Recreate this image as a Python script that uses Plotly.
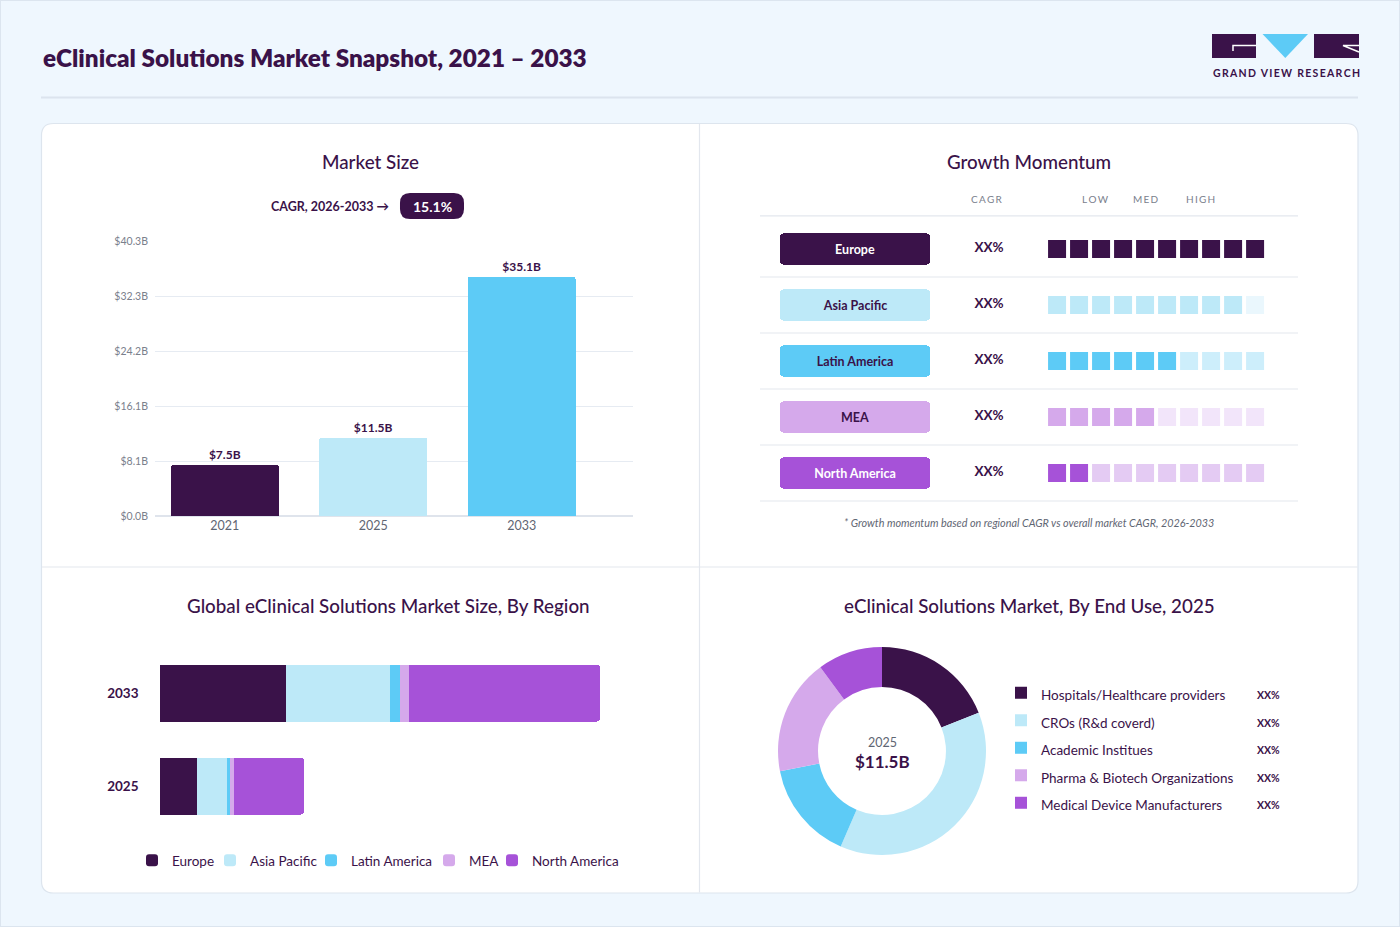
import plotly.graph_objects as go

# ---------------- data ----------------
years = ["2021", "2025", "2033"]
market_size = [7.5, 11.5, 35.1]
market_labels = ["$7.5B", "$11.5B", "$35.1B"]
y_max = 40.33
y_tickvals = [0, 8.066, 16.132, 24.198, 32.264, 40.33]
y_ticktext = ["$0.0B", "$8.1B", "$16.1B", "$24.2B", "$32.3B", "$40.3B"]
cagr_label = "CAGR, 2026-2033 \u2192"
cagr_value = "15.1%"

regions = ["Europe", "Asia Pacific", "Latin America", "MEA", "North America"]
momentum_filled = [10, 9, 6, 5, 2]
momentum_slots = 10
momentum_cagr = ["XX%", "XX%", "XX%", "XX%", "XX%"]
momentum_header = ["CAGR", "LOW", "MED", "HIGH"]
momentum_note = "* Growth momentum based on regional CAGR vs overall market CAGR, 2026-2033"

region_years = ["2025", "2033"]
europe_vals = [2.95, 10.09]
asia_pacific_vals = [2.45, 8.24]
latin_america_vals = [0.20, 0.80]
mea_vals = [0.30, 0.74]
north_america_vals = [5.60, 15.22]
region_total_labels = ["$11.5B", "$35.1B"]

end_use = ["Hospitals/Healthcare providers", "CROs (R&d coverd)", "Academic Institues",
           "Pharma & Biotech Organizations", "Medical Device Manufacturers"]
end_use_share = [19.0, 37.5, 15.4, 18.0, 10.1]
end_use_pct = ["XX%", "XX%", "XX%", "XX%", "XX%"]
donut_year = "2025"
donut_total = "$11.5B"

# ---------------- styles ----------------
W, H = 1400, 927
FONT = "Lato"
DARK = "#3A1249"
GRAY = "#5F6673"
LIGHTGRAY = "#7A808C"
C_DARK = "#3A1249"
C_LBLUE = "#BDE9F8"
C_SKY = "#5DCBF6"
C_LAV = "#D5A9EB"
C_PURP = "#A652D8"
region_colors = [C_DARK, C_LBLUE, C_SKY, C_LAV, C_PURP]
region_empty = [C_DARK, "#EAF7FD", "#CDEEFB", "#F2E5FA", "#E4CBF3"]
region_text = ["white", DARK, DARK, DARK, "white"]
region_legend_width = [33, 56, 73, 18, 92]
market_colors = [C_DARK, C_LBLUE, C_SKY]
end_use_colors = [C_DARK, C_LBLUE, C_SKY, C_LAV, C_PURP]


def fx(p):
    return p / W


def fy(p):
    return 1 - p / H


def rrect(x0, y0, x1, y1, r):
    def P(x, y):
        return f"{fx(x):.5f},{fy(y):.5f}"
    return (f"M{P(x0 + r, y0)} L{P(x1 - r, y0)} Q{P(x1, y0)} {P(x1, y0 + r)} "
            f"L{P(x1, y1 - r)} Q{P(x1, y1)} {P(x1 - r, y1)} L{P(x0 + r, y1)} "
            f"Q{P(x0, y1)} {P(x0, y1 - r)} L{P(x0, y0 + r)} Q{P(x0, y0)} {P(x0 + r, y0)} Z")


fig = go.Figure()

# ---------------- Market size bars ----------------
fig.add_trace(go.Bar(
    x=years, y=market_size, marker=dict(color=market_colors, line=dict(width=0)),
    width=0.727, text=market_labels, textposition="outside", cliponaxis=False,
    textfont=dict(family=FONT, size=12, color=DARK, weight="bold"),
    xaxis="x", yaxis="y", showlegend=False, hoverinfo="skip"))

# ---------------- Growth momentum ----------------
rows = list(range(len(regions)))
BOX_X0 = 1 + (780 - 1057) / 22
BOX_LEN = 150 / 22
fig.add_trace(go.Bar(
    y=rows, x=[BOX_LEN] * len(rows), base=[BOX_X0] * len(rows), orientation="h",
    width=0.554, marker=dict(color=region_colors, line=dict(width=0)),
    text=regions, textposition="inside", insidetextanchor="middle",
    textfont=dict(family=FONT, size=12.5, color=region_text, weight="bold"),
    xaxis="x2", yaxis="y2", showlegend=False, hoverinfo="skip"))

sq_x, sq_y, sq_c = [], [], []
for r, n in enumerate(momentum_filled):
    for c in range(1, momentum_slots + 1):
        sq_x.append(c)
        sq_y.append(r)
        sq_c.append(region_colors[r] if c <= n else region_empty[r])
fig.add_trace(go.Scatter(
    x=sq_x, y=sq_y, mode="markers",
    marker=dict(symbol="square", size=18, color=sq_c, line=dict(width=0)),
    xaxis="x2", yaxis="y2", showlegend=False, hoverinfo="skip"))

fig.add_trace(go.Scatter(
    x=[1 + (989 - 1057) / 22] * len(rows), y=rows, mode="text", text=momentum_cagr,
    textfont=dict(family=FONT, size=13.5, color=DARK, weight="bold"),
    xaxis="x2", yaxis="y2", showlegend=False, hoverinfo="skip"))

# ---------------- Region stacked bars ----------------
region_series = [europe_vals, asia_pacific_vals, latin_america_vals, mea_vals, north_america_vals]
for name, vals, col, lw in zip(regions, region_series, region_colors, region_legend_width):
    fig.add_trace(go.Bar(
        y=region_years, x=vals, name=name, orientation="h",
        marker=dict(color=col, line=dict(width=0)), legendwidth=lw,
        xaxis="x3", yaxis="y3", legend="legend", hoverinfo="skip"))
region_totals = [sum(v[i] for v in region_series) for i in range(len(region_years))]

# ---------------- Donut ----------------
fig.add_trace(go.Pie(
    labels=[f'<span style="font-size:13.5px">{t}</span>' for t in end_use],
    values=end_use_share, hole=0.615, sort=False, direction="clockwise",
    rotation=0, marker=dict(colors=end_use_colors, line=dict(width=0)),
    textinfo="none", hoverinfo="skip",
    domain=dict(x=[fx(778), fx(986)], y=[fy(855), fy(647)]),
    legend="legend2", showlegend=True))

# ---------------- shapes ----------------
shapes = []
shapes.append(dict(type="rect", xref="paper", yref="paper", x0=0, x1=1, y0=0, y1=1,
                   line=dict(color="#DCE5EF", width=2), fillcolor="rgba(0,0,0,0)", layer="below"))
shapes.append(dict(type="line", xref="paper", yref="paper", x0=fx(41), x1=fx(1358),
                   y0=fy(97.5), y1=fy(97.5), line=dict(color="#DCE4EE", width=2), layer="below"))
shapes.append(dict(type="path", xref="paper", yref="paper", path=rrect(41.5, 123.5, 1358, 893, 12),
                   fillcolor="white", line=dict(color="#DDE5EE", width=1.2), layer="below"))
shapes.append(dict(type="line", xref="paper", yref="paper", x0=fx(699.5), x1=fx(699.5),
                   y0=fy(124), y1=fy(892.5), line=dict(color="#E3E7EE", width=1.2), layer="below"))
shapes.append(dict(type="line", xref="paper", yref="paper", x0=fx(42), x1=fx(1357.5),
                   y0=fy(567), y1=fy(567), line=dict(color="#E3E7EE", width=1.2), layer="below"))
shapes.append(dict(type="path", xref="paper", yref="paper", path=rrect(400, 193, 464, 219, 10),
                   fillcolor=C_DARK, line=dict(width=0), layer="above"))
for yv in [-0.59] + [r + 0.5 for r in rows]:
    shapes.append(dict(type="line", xref="paper", yref="y2", x0=fx(760), x1=fx(1298),
                       y0=yv, y1=yv, line=dict(color="#E3E7EE", width=1.2), layer="below"))
# logo
shapes.append(dict(type="rect", xref="paper", yref="paper", x0=fx(1212), x1=fx(1256),
                   y0=fy(58), y1=fy(34), fillcolor=C_DARK, line=dict(width=0)))
shapes.append(dict(type="path", xref="paper", yref="paper",
                   path=f"M{fx(1256):.5f},{fy(45.5):.5f} L{fx(1233):.5f},{fy(45.5):.5f} L{fx(1233):.5f},{fy(51):.5f}",
                   line=dict(color="white", width=1.5)))
shapes.append(dict(type="path", xref="paper", yref="paper",
                   path=f"M{fx(1262.5):.5f},{fy(34):.5f} L{fx(1308):.5f},{fy(34):.5f} L{fx(1285.3):.5f},{fy(58):.5f} Z",
                   fillcolor=C_SKY, line=dict(width=0)))
shapes.append(dict(type="rect", xref="paper", yref="paper", x0=fx(1314), x1=fx(1359),
                   y0=fy(58), y1=fy(34), fillcolor=C_DARK, line=dict(width=0)))
shapes.append(dict(type="path", xref="paper", yref="paper",
                   path=f"M{fx(1359):.5f},{fy(45.5):.5f} L{fx(1343):.5f},{fy(45.5):.5f} L{fx(1359):.5f},{fy(52):.5f}",
                   line=dict(color="white", width=1.5)))

# ---------------- annotations ----------------
ann = []


def A(text, x, y, size, color=DARK, weight="normal", xanchor="center", style="normal", **kw):
    d = dict(text=text, x=x, y=y, xref=kw.pop("xref", "paper"), yref=kw.pop("yref", "paper"),
             xanchor=xanchor, yanchor="middle", showarrow=False,
             font=dict(family=FONT, size=size, color=color, weight=weight, style=style))
    d.update(kw)
    ann.append(d)


A("eClinical Solutions Market Snapshot, 2021 \u2013 2033", fx(41), fy(57), 24.3, weight=800, xanchor="left")
A("\u2009".join("GRAND") + "  " + "\u2009".join("VIEW") + "  " + "\u2009".join("RESEARCH"),
  fx(1286), fy(73), 10.5, weight="bold")

A("Market Size", fx(370), fy(161), 18.8, weight=500)
A("Growth Momentum", fx(1029), fy(161), 18.8, weight=500)
A("Global eClinical Solutions Market Size, By Region", fx(388), fy(605), 18.8, weight=500)
A("eClinical Solutions Market, By End Use, 2025", fx(1029), fy(605), 18.8, weight=500)

A(cagr_label, fx(391), fy(206), 12.5, weight="bold", xanchor="right")
A(cagr_value, fx(432), fy(206), 14, color="white", weight="bold")

hx = [1 + (987 - 1057) / 22, 1 + (1095 - 1057) / 22, 1 + (1146 - 1057) / 22, 1 + (1200 - 1057) / 22]
for t, xv in zip(momentum_header, hx):
    A("\u2009".join(t), xv, -0.89, 10, color=LIGHTGRAY, xref="x2", yref="y2")
A(momentum_note, fx(1029), fy(522), 10.8, color=GRAY, style="italic")

for yr, tot, lab in zip(region_years, region_totals, region_total_labels):
    A(lab, tot, yr, 13, weight="bold", xanchor="left", xref="x3", yref="y3", xshift=9)

A(donut_year, fx(882), fy(742), 12.5, color=GRAY)
A(donut_total, fx(882), fy(761), 17, weight="bold")
for i, t in enumerate(end_use_pct):
    A(t, fx(1268.5), fy(695 + 27.5 * i), 10.5, weight="bold")

fig.update_layout(
    width=W, height=H, margin=dict(l=0, r=0, t=0, b=0, autoexpand=False),
    paper_bgcolor="#EFF7FE", plot_bgcolor="rgba(0,0,0,0)",
    font=dict(family=FONT, color=DARK),
    barmode="stack", barcornerradius=3, bargap=0.387,
    shapes=shapes, annotations=ann,
    xaxis=dict(domain=[fx(155), fx(633)], range=[-0.47, 2.75], type="category",
               showgrid=False, zeroline=False, showline=False, ticks="", automargin=False,
               tickfont=dict(family=FONT, size=12.5, color=GRAY), fixedrange=True),
    yaxis=dict(domain=[fy(516), fy(241)], range=[0, y_max], tickvals=y_tickvals, ticktext=y_ticktext,
               showgrid=True, gridcolor="#E6EBF2", gridwidth=1, zeroline=True, zerolinecolor="#DFE4EC",
               zerolinewidth=2, showline=False, ticks="", ticklabelstandoff=6, automargin=False,
               tickfont=dict(family=FONT, size=10.5, color=LIGHTGRAY), fixedrange=True),
    xaxis2=dict(domain=[fx(760), fx(1298)], range=[-12.5, 11.95], visible=False, fixedrange=True),
    yaxis2=dict(domain=[fy(530), fy(180)], range=[(530 - 249) / 56, (180 - 249) / 56],
                visible=False, fixedrange=True),
    xaxis3=dict(domain=[fx(159.5), fx(636.6)], range=[0, 38], visible=False, fixedrange=True),
    yaxis3=dict(domain=[fy(832.5), fy(646.5)], type="category", categoryorder="array",
                categoryarray=region_years, range=[-0.5, 1.5], showgrid=False, zeroline=False,
                showline=False, ticks="", ticklabelstandoff=20, anchor="x3", automargin=False,
                tickfont=dict(family=FONT, size=13.5, color=DARK, weight="bold"), fixedrange=True),
    legend=dict(orientation="h", x=fx(132), xanchor="left", y=fy(845), yanchor="top",
                traceorder="normal", font=dict(family=FONT, size=13.5, color=DARK),
                bgcolor="rgba(0,0,0,0)"),
    legend2=dict(orientation="v", x=fx(1001), xanchor="left", y=fy(674), yanchor="top",
                 traceorder="normal", font=dict(family=FONT, size=18.85, color=DARK),
                 bgcolor="rgba(0,0,0,0)"),
)

POST = """
document.documentElement.style.margin='0';
document.documentElement.style.background='#EFF7FE';
document.body.style.margin='0';
document.body.style.background='#EFF7FE';
document.body.style.overflow='hidden';
var gd = document.getElementsByClassName('plotly-graph-div')[0];
if (gd) {
  gd.style.position='fixed';
  gd.style.top='0px';
  gd.style.left='0px';
}
"""

fig.write_html("out.html", config={"displayModeBar": False}, post_script=POST)
